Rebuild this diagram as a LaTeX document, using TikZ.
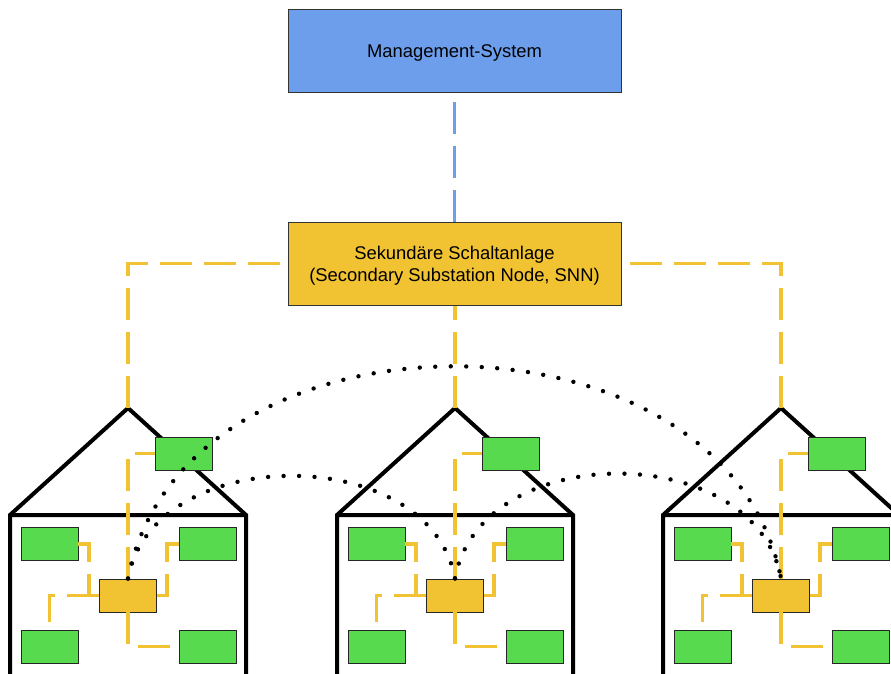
\documentclass[tikz,border=0pt]{standalone}
\usepackage{fontspec}
\setmainfont{Liberation Sans}
\definecolor{mgmtblue}{HTML}{6D9EEB}
\definecolor{snnyellow}{HTML}{F1C232}
\definecolor{devgreen}{RGB}{88,218,78}
\begin{document}
\begin{tikzpicture}[x=1pt,y=-1pt,
  bigbox/.style={draw=black!80, line width=1pt, minimum width=333pt, minimum height=83pt,
    inner sep=0pt, align=center, text depth=0pt, font=\fontsize{18.4}{22}\selectfont},
  device/.style={draw=black!85, line width=0.9pt, fill=devgreen, minimum width=57pt,
    minimum height=33pt, inner sep=0pt},
  hub/.style={device, fill=snnyellow},
  link/.style={snnyellow, line width=3.3pt, dash pattern=on 32pt off 12pt},
  uplink/.style={mgmtblue, line width=3.3pt, dash pattern=on 32pt off 12pt},
  wall/.style={line width=4pt, line join=miter},
  radio/.style={line width=4.4pt, line cap=round, dash pattern=on 0pt off 15.5pt}]
\useasboundingbox (0,0) rectangle (891,673);
\clip (0,0) rectangle (891,673);

% head-end and substation
\node[bigbox, fill=mgmtblue] (mgmt) at (454.5,51) {Management-System};
\node[bigbox, fill=snnyellow] (snn) at (454.5,263.5) {Sekundäre Schaltanlage\\(Secondary Substation Node, SNN)};
\draw[uplink] (snn.north) -- (mgmt.south);

% three buildings with their meters and gateway
\foreach \c/\i in {128/1,455/2,781/3} {
  \draw[wall] (\c-118,700) -- (\c-118,515) -- (\c,408) -- (\c+118,515) -- (\c+118,700)
              (\c-118,515) -- (\c+118,515);
  \coordinate (apex\i) at (\c,408);
  \node[hub]    (cb\i) at (\c,595.5) {};
  \node[device] (tl\i) at (\c-78.5,544) {};
  \node[device] (tr\i) at (\c+79.5,544) {};
  \node[device] (bl\i) at (\c-78.5,646.5) {};
  \node[device] (br\i) at (\c+79.5,646.5) {};
  \node[device] (rf\i) at (\c+56,453.5) {};
  \draw[link] (cb\i.north) -- (\c,453.5) -- (rf\i.west);
  \draw[link] (cb\i.west) -- (\c-39,595.5) |- (tl\i.east);
  \draw[link] (cb\i.west) -| (bl\i.north);
  \draw[link] (cb\i.east) -- (\c+39,595.5) |- (tr\i.west);
  \draw[link] (cb\i.south) |- (br\i.west);
}

% feeders from the substation to the buildings
\draw[link] (apex1) |- (snn.west);
\draw[link] (apex2) -- (apex2 |- snn.south);
\draw[link] (apex3) |- (snn.east);

% radio links between gateways
\draw[radio] (cb1.north) .. controls +(55,-283) and +(-55,-283) .. (cb3.north);
\draw[radio] (cb1.north) .. controls +(25,-137) and +(-25,-137) .. (cb2.north);
\draw[radio] (cb2.north) .. controls +(25,-140) and +(-25,-140) .. (cb3.north);
\end{tikzpicture}
\end{document}
